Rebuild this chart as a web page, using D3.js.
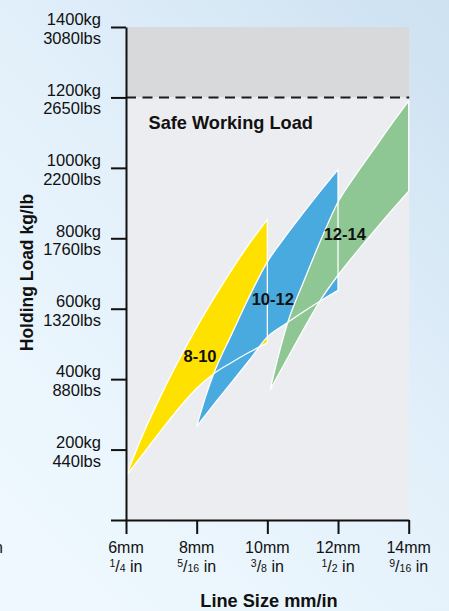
<!DOCTYPE html>
<html>
<head>
<meta charset="utf-8">
<script src="https://cdn.jsdelivr.net/npm/d3@7"></script>
<style>
  html, body { margin: 0; padding: 0; }
  svg { display: block; font-family: "Liberation Sans", Arial, Helvetica, sans-serif; }
</style>
</head>
<body>
<svg id="chart" width="449" height="611"></svg>
<script>
// Holding load ranges by line size
const sizeTicksMm = [6, 8, 10, 12, 14];
const sizeTicksIn = [["1", "4"], ["5", "16"], ["3", "8"], ["1", "2"], ["9", "16"]];
const loadTicksKg = [0, 200, 400, 600, 800, 1000, 1200, 1400];
const loadTicksLbs = ["", "440", "880", "1320", "1760", "2200", "2650", "3080"];
const safeWorkingLoadKg = 1200;
const maxLoadKg = 1400;

// band 8-10
const band810Mm    = [6, 6.5, 7, 7.5, 8, 8.5, 9, 9.5, 10];
const band810Upper = [125, 248, 356, 455, 547, 632, 712, 786, 854];
const band810Lower = [125, 190, 255, 318, 374, 417, 448, 477, 503];

// band 10-12
const band1012Mm    = [8, 8.25, 8.5, 9, 9.5, 10, 10.5, 11, 11.5, 12];
const band1012Upper = [266, 350, 420, 530, 637, 733, 804, 870, 934, 995];
const band1012Lower = [266, 298, 330, 392, 455, 520, 556, 590, 622, 652];

// band 12-14
const band1214Mm    = [10.08, 10.3, 10.6, 11, 11.5, 12, 12.5, 13, 13.5, 14];
const band1214Upper = [370, 462, 568, 670, 792, 903, 980, 1051, 1122, 1190];
const band1214Lower = [370, 410, 465, 537, 624, 695, 758, 818, 877, 934];

const bands = [
  { label: "8-10",  color: "#ffe100", mm: band810Mm,  upper: band810Upper,  lower: band810Lower },
  { label: "10-12", color: "#49aadf", mm: band1012Mm, upper: band1012Upper, lower: band1012Lower },
  { label: "12-14", color: "#8fc794", mm: band1214Mm, upper: band1214Upper, lower: band1214Lower }
];

const svg = d3.select("#chart");
const W = 449, H = 611;

const x = d3.scaleLinear().domain([6, 14]).range([126, 408.7]);
const y = d3.scaleLinear().domain([0, maxLoadKg]).range([520, 27]);

// page background
const defs = svg.append("defs");
const grad = defs.append("linearGradient").attr("id", "bg")
  .attr("x1", "1").attr("y1", "0").attr("x2", "0.25").attr("y2", "1");
grad.append("stop").attr("offset", "0").attr("stop-color", "#cde1f1");
grad.append("stop").attr("offset", "0.55").attr("stop-color", "#e4f1fb");
grad.append("stop").attr("offset", "1").attr("stop-color", "#eef8fe");
svg.append("rect").attr("width", W).attr("height", H).attr("fill", "url(#bg)");

// plot areas: above and below safe working load
svg.append("rect")
  .attr("x", x(6)).attr("y", y(maxLoadKg))
  .attr("width", x(14) - x(6) + 0.5).attr("height", y(safeWorkingLoadKg) - y(maxLoadKg))
  .attr("fill", "#d8d9db");
svg.append("rect")
  .attr("x", x(6)).attr("y", y(safeWorkingLoadKg))
  .attr("width", x(14) - x(6) + 0.5).attr("height", y(0) - y(safeWorkingLoadKg))
  .attr("fill", "#ecedf0");

// bands: fills first, outlines on top
const area = d3.area()
  .x(d => x(d.mm))
  .y0(d => y(d.lo))
  .y1(d => y(d.hi))
  .curve(d3.curveMonotoneX);

const bandRows = bands.map(b => b.mm.map((m, i) => ({ mm: m, hi: b.upper[i], lo: b.lower[i] })));

svg.append("g").selectAll("path").data(bands).join("path")
  .attr("d", (b, i) => area(bandRows[i]))
  .attr("fill", b => b.color);

svg.append("g").selectAll("path").data(bands).join("path")
  .attr("d", (b, i) => area(bandRows[i]))
  .attr("fill", "none")
  .attr("stroke", "#ffffff")
  .attr("stroke-width", 1.3)
  .attr("stroke-linejoin", "round");

// band labels
const labelPos = [[200, 361.5], [272.8, 305], [344.8, 240]];
svg.append("g").selectAll("text").data(bands).join("text")
  .attr("x", (b, i) => labelPos[i][0])
  .attr("y", (b, i) => labelPos[i][1])
  .attr("text-anchor", "middle")
  .attr("font-weight", "bold")
  .attr("font-size", 16.5)
  .attr("fill", "#111")
  .text(b => b.label);

// safe working load line
svg.append("line")
  .attr("x1", x(6)).attr("x2", x(14) + 0.5)
  .attr("y1", y(safeWorkingLoadKg)).attr("y2", y(safeWorkingLoadKg))
  .attr("stroke", "#1a1a1a").attr("stroke-width", 2)
  .attr("stroke-dasharray", "10,6.5");

svg.append("text")
  .attr("x", 148.5).attr("y", 128.5)
  .attr("font-weight", "bold").attr("font-size", 18.2)
  .attr("fill", "#111")
  .text("Safe Working Load");

// axes
const yAxis = d3.axisLeft(y).tickValues(loadTicksKg).tickSize(15).tickSizeOuter(0).tickFormat("");
const xAxis = d3.axisBottom(x).tickValues(sizeTicksMm).tickSize(14).tickSizeOuter(0).tickFormat("");

const gy = svg.append("g").attr("transform", `translate(${x(6)},0)`).call(yAxis);
const gx = svg.append("g").attr("transform", `translate(0,${y(0)})`).call(xAxis);
[gy, gx].forEach(g => {
  g.selectAll("path, line").attr("stroke", "#111").attr("stroke-width", 2);
});

// y tick labels (kg over lbs)
const yl = svg.append("g").attr("font-size", 16.5).attr("fill", "#111").attr("text-anchor", "end");
loadTicksKg.forEach((v, i) => {
  if (v === 0) return;
  yl.append("text").attr("x", 101).attr("y", y(v) - 1.7).text(v + "kg");
  yl.append("text").attr("x", 101).attr("y", y(v) + 17).text(loadTicksLbs[i] + "lbs");
});

// x tick labels (mm over inches)
const xl = svg.append("g").attr("fill", "#111").attr("text-anchor", "middle");
sizeTicksMm.forEach((v, i) => {
  xl.append("text").attr("x", x(v)).attr("y", 553.3).attr("font-size", 16).text(v + "mm");
  const t = xl.append("text").attr("x", x(v)).attr("y", 571.7).attr("font-size", 16);
  t.append("tspan").attr("font-size", 10.5).attr("dy", -5).text(sizeTicksIn[i][0]);
  t.append("tspan").attr("dy", 5).text("/");
  t.append("tspan").attr("font-size", 10.5).text(sizeTicksIn[i][1]);
  t.append("tspan").text(" in");
});

// axis titles
svg.append("text")
  .attr("x", 269).attr("y", 607)
  .attr("text-anchor", "middle").attr("font-weight", "bold").attr("font-size", 18.2)
  .attr("fill", "#111")
  .text("Line Size mm/in");

svg.append("text")
  .attr("transform", "translate(33,272.5) rotate(-90)")
  .attr("text-anchor", "middle").attr("font-weight", "bold").attr("font-size", 17.5)
  .attr("fill", "#111")
  .text("Holding Load kg/lb");

// neighbouring caption cut off at the left edge
svg.append("text")
  .attr("x", 3).attr("y", 553.3).attr("text-anchor", "end")
  .attr("font-size", 16).attr("fill", "#111")
  .text("in");
</script>
</body>
</html>
